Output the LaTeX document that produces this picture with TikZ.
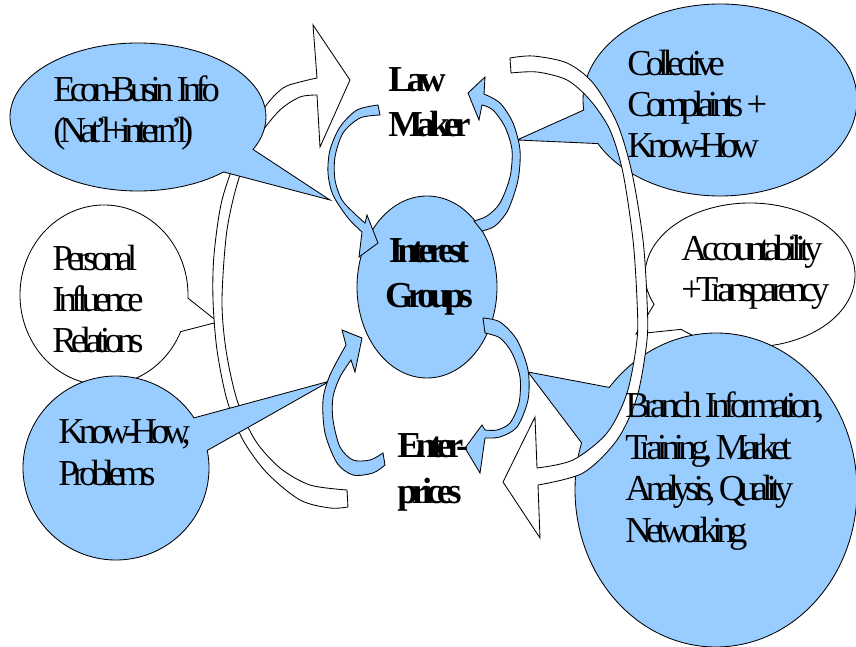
\documentclass[tikz,border=0pt]{standalone}
\usepackage{fontspec}
\newfontfamily\slidefont{Liberation Serif}[LetterSpace=-16]
\usepackage{tikz}
\usetikzlibrary{calc,shapes.geometric}
\definecolor{slideblue}{HTML}{99CCFF}
\def\callout[#1](#2)(#3:#4:#5:#6)(#7){\filldraw[#1] ($(#2)+(#4:#5 and #6)$) arc[start angle=#4, end angle=#3+360, x radius=#5, y radius=#6] -- (#7) -- cycle;}
\tikzset{
	outline/.style={draw=black, line width=0.6pt},
	bluefill/.style={outline, fill=slideblue},
	whitefill/.style={outline, fill=white},
	plaintext/.style={anchor=base west, align=left, inner sep=0pt, font=\slidefont\fontsize{26}{29.5}\selectfont},
	boldtext/.style={anchor=base west, align=left, inner sep=0pt, font=\slidefont\bfseries\fontsize{26}{32.6}\selectfont},
}

\begin{document}
\begin{tikzpicture}[x=0.25mm, y=-0.25mm]
			%%%%% START %%%%%
			\useasboundingbox (0, 0) rectangle (856, 647);
			
			% white bubbles under the left band
			\callout[whitefill](104, 295)(2:24:84:90)(218, 322);
			\callout[whitefill](750, 275)(131:156:105:72)(636, 334);
			
			% left white band arrow
			\filldraw[whitefill] plot[smooth] coordinates {(348, 507) (330, 508) (300, 500) (267, 473) (243, 440) (227, 400) (217, 350) (213, 300) (214, 255) (222, 200) (240, 150) (265, 107) (283, 88) (300, 82) (317, 78)}
				-- (313, 25) -- (350, 80) -- (320, 147) -- (317, 95)
				-- plot[smooth] coordinates {(317, 95) (300, 97) (280, 110) (260, 135) (240, 175) (227, 230) (222, 300) (226, 350) (237, 400) (255, 440) (280, 468) (310, 485) (347, 490)} -- cycle;
			
			% blue bubbles
			\callout[bluefill](138, 117)(26:48:128:74)(330, 200);
			\callout[bluefill](116, 468)(-33:-11:93:92)(330, 381);
			\callout[bluefill](720, 100)(153:174:137:96)(517, 140);
			\callout[bluefill](716, 490)(197.5:220.8:141:157)(528, 372);
			
			% right white band arrow
			\filldraw[whitefill] plot[smooth] coordinates {(510, 58) (533, 56) (567, 63) (593, 83) (617, 123) (632, 173) (643, 240) (647, 300) (647, 340) (637, 397) (617, 440) (583, 473) (538, 485)}
				-- (540, 538) -- (503, 482) -- (535, 417) -- (537, 468)
				-- plot[smooth] coordinates {(537, 468) (573, 460) (607, 433) (627, 393) (637, 340) (637, 300) (633, 240) (623, 173) (610, 130) (590, 100) (567, 80) (537, 72) (511, 73)} -- cycle;
			
			\node[bluefill, ellipse, inner sep=0pt, minimum width=35mm, minimum height=45.5mm] (groups) at (427, 287) {};
			
			% blue curved arrows round the groups
			\filldraw[bluefill] plot[smooth] coordinates {(378, 105) (357, 110) (340, 127) (330, 150) (328, 173) (333, 195) (348, 218) (362, 232)}
				-- (359, 257) -- (378, 243) -- (367, 215) -- (365, 223)
				-- plot[smooth] coordinates {(365, 223) (355, 214) (342, 200) (335, 180) (335, 157) (343, 133) (360, 118) (380, 115)} -- cycle;
			\filldraw[bluefill] plot[smooth] coordinates {(482, 231) (495, 226) (508, 210) (518, 180) (520, 150) (513, 123) (500, 103) (484, 94)}
				-- (485, 77) -- (468, 93) -- (479, 120) -- (482, 105)
				-- plot[smooth] coordinates {(482, 105) (493, 110) (505, 127) (512, 150) (510, 177) (500, 203) (487, 216) (474, 221)} -- cycle;
			\filldraw[bluefill] plot[smooth] coordinates {(483, 318) (500, 322) (517, 340) (528, 370) (528, 400) (517, 427) (500, 437) (485, 438)}
				-- (480, 473) -- (465, 448) -- (482, 425) -- (485, 430)
				-- plot[smooth] coordinates {(485, 430) (497, 430) (510, 423) (519, 403) (520, 377) (512, 353) (500, 338) (485, 333)} -- cycle;
			\filldraw[bluefill] plot[smooth] coordinates {(385, 465) (373, 473) (353, 475) (337, 463) (325, 433) (323, 400) (330, 375) (346, 345)}
				-- (342, 330) -- (362, 338) -- (355, 372) -- (351, 360)
				-- plot[smooth] coordinates {(351, 360) (340, 377) (333, 397) (333, 420) (340, 447) (353, 460) (370, 460) (383, 453)} -- cycle;
			
			% texts (placed by the base line of their last line)
			\node[boldtext] (lawmaker) at (388, 137) {Law\\Maker};
			\node[boldtext, anchor=base, align=center] (groupsname) at (429, 308) {Interest\\Groups};
			\node[boldtext] (enterprices) at (397, 503) {Enter-\\prices};
			
			\node[plaintext] (econinfo) at (53, 143) {Econ-Busin Info\\(Nat’l+intern’l)};
			\node[plaintext] (complaints) at (627, 158) {Collective\\Complaints +\\Know-How};
			\node[plaintext] (personal) at (52, 353) {Personal\\Influence\\Relations};
			\node[plaintext] (accountability) at (681, 302) {Accountability\\+Transparency};
			\node[plaintext] (problems) at (58, 485) {Know-How,\\Problems};
			\node[plaintext] (branchinfo) at (625, 542) {Branch Information,\\Training, Market\\Analysis, Quality\\Networking};
			
			%%%%% END %%%%%
\end{tikzpicture}
\end{document}
